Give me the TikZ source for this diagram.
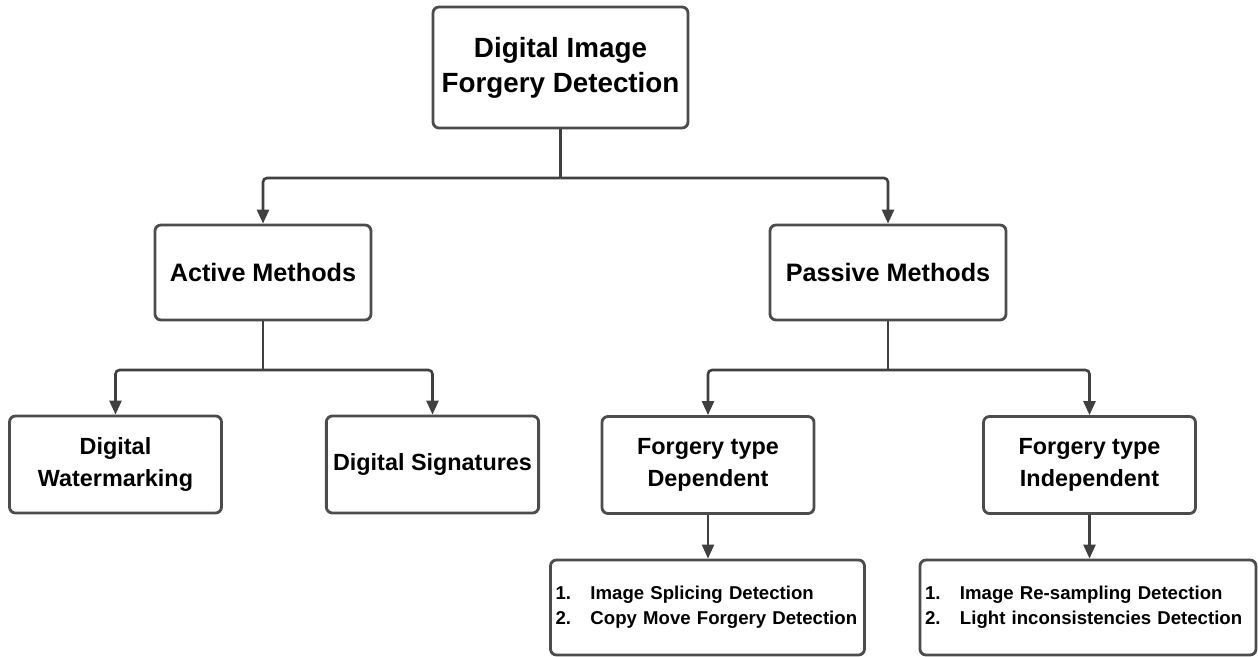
\documentclass[tikz,border=0pt]{standalone}
\usepackage{fontspec}
\setmainfont{Liberation Sans}
\usetikzlibrary{arrows.meta}
\tikzset{
  box/.style={draw=black!70,line width=1.4pt,rounded corners=3pt,fill=white,align=center},
  bigbox/.style={box,minimum width=106pt,minimum height=48.5pt,font=\fontsize{11.7}{16}\selectfont\bfseries},
  listbox/.style={box,align=left,text width=152pt,inner xsep=2.5pt,minimum height=47.5pt,font=\fontsize{9.3}{12.5}\selectfont\bfseries},
  link/.style={draw=black!75,line width=1.3pt,rounded corners=2pt},
  conn/.style={link,-{Triangle[length=7pt,width=6pt]}},
}
\newcommand{\itm}[1]{\makebox[17.5pt][l]{#1}}
\begin{document}
\begin{tikzpicture}[x=0.5pt,y=-0.5pt]
\useasboundingbox (0,0) rectangle (1258,657);
\node[box,minimum width=127.5pt,minimum height=60.5pt,font=\fontsize{13.9}{17.5}\selectfont\bfseries] (root) at (560.5,67.5) {Digital Image\\Forgery Detection};
\node[box,minimum width=108pt,minimum height=47.5pt,font=\fontsize{12.6}{16}\selectfont\bfseries] (act) at (263,272.5) {Active Methods};
\node[box,minimum width=118pt,minimum height=47.5pt,font=\fontsize{12.6}{16}\selectfont\bfseries] (pas) at (888,272.5) {Passive Methods};
\node[bigbox] (wmk) at (115.5,464.5) {Digital\\Watermarking};
\node[bigbox] (sig) at (432.5,464.5) {Digital Signatures};
\node[bigbox] (dep) at (708,465) {Forgery type\\Dependent};
\node[bigbox] (ind) at (1089.5,465) {Forgery type\\Independent};
\node[listbox] (lsta) at (707.5,607.5) {\itm{1.}Image Splicing Detection\\\itm{2.}Copy Move Forgery Detection};
\node[listbox,text width=163pt] (lstb) at (1088,607.5) {\itm{1.}Image Re-sampling Detection\\\itm{2.}Light inconsistencies Detection};
\coordinate (j0) at (560.5,178);
\coordinate (j1) at (263,370);
\coordinate (j2) at (888,370);
\draw[link] (root.south) -- (j0);
\draw[conn] (j0) -| (act.north);
\draw[conn] (j0) -| (pas.north);
\draw[link] (act.south) -- (j1);
\draw[conn] (j1) -| (wmk.north);
\draw[conn] (j1) -| (sig.north);
\draw[link] (pas.south) -- (j2);
\draw[conn] (j2) -| (dep.north);
\draw[conn] (j2) -| (ind.north);
\draw[conn] (dep.south) -- (lsta.north -| dep.south);
\draw[conn] (ind.south) -- (lstb.north -| ind.south);
\end{tikzpicture}
\end{document}
